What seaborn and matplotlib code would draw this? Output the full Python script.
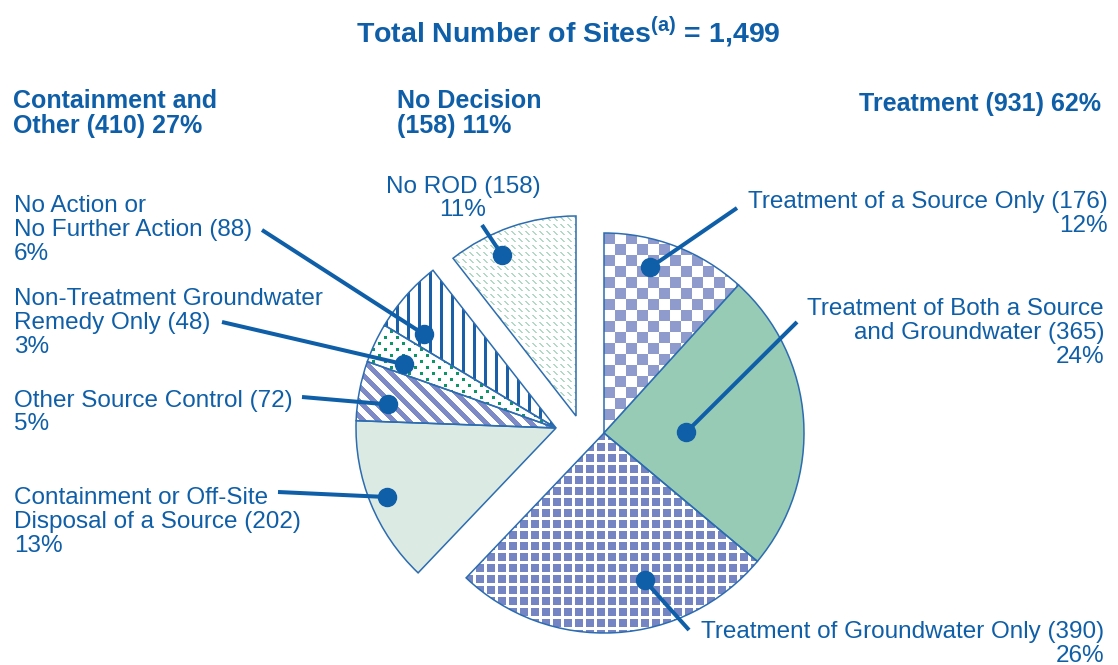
import numpy as np
import matplotlib
matplotlib.use("Agg")
import matplotlib.pyplot as plt
import seaborn as sns
from matplotlib.colors import to_rgba

sns.set_theme(style="white")
plt.rcParams["font.family"] = ["Liberation Sans", "DejaVu Sans"]
plt.rcParams["mathtext.fontset"] = "custom"
plt.rcParams["mathtext.rm"] = "Liberation Sans"
plt.rcParams["mathtext.bf"] = "Liberation Sans:bold"

# === DATA ===
total_sites = 1499
categories = [
    "Treatment of a Source Only",
    "Treatment of Both a Source\nand Groundwater",
    "Treatment of Groundwater Only",
    "Containment or Off-Site\nDisposal of a Source",
    "Other Source Control",
    "Non-Treatment Groundwater\nRemedy Only",
    "No Action or\nNo Further Action",
    "No ROD",
]
counts = [176, 365, 390, 202, 72, 48, 88, 158]
percents = [12, 24, 26, 13, 5, 3, 6, 11]
groups = ["Treatment"] * 3 + ["Containment"] * 4 + ["No Decision"]

group_keys = ["Treatment", "Containment", "No Decision"]
group_names = ["Treatment", "Containment and\nOther", "No Decision"]
group_counts = [931, 410, 158]
group_percents = [62, 27, 11]

# === STYLE / LAYOUT (pixel units, y measured from top) ===
W, H = 1118, 665
R = 200
BLUE = "#0f5fa8"
EDGE = "#2c6cb0"
LINE_PX = 23.5
group_centers = {"Treatment": (604, 433), "Containment": (556, 428), "No Decision": (576, 416)}
fills = ["checker", "#98cbb6", "grid", "#dbeae3", "stripes", "dots", "vlines", "dashes"]

# where the pointer dot sits: (fraction of the wedge angle, radius in px)
dot_pos = [(0.63, 172), (0.46, 82), (0.63, 153), (0.50, 183),
           (0.66, 170), (0.71, 165), (0.79, 162), (0.65, 177)]
# where the pointer line starts next to the label
line_start = [(737, 208), (797, 322), (689, 630), (278, 492),
              (302, 397), (222, 322), (262, 230), (482, 225)]
# label anchor (x, baseline of first line, ha)
label_pos = [(1108, 208, "right"), (1104, 316, "right"), (1104, 638, "right"),
             (14, 505, "left"), (14, 407, "left"), (14, 306, "left"),
             (14, 213, "left"), (463, 193, "center")]
header_pos = [(1101, 111, "right"), (13, 110, "left"), (397, 110, "left")]

# === textures ===
yy, xx = np.mgrid[0:H, 0:W]


def texture(mask, color):
    img = np.ones((H, W, 4))
    img[mask] = to_rgba(color)
    return img


textures = {
    "checker": texture((((xx - 604) // 11) + ((yy - 233) // 11)) % 2 == 0, "#8e9bcc"),
    "grid": texture(((xx % 11) >= 3) & ((yy % 11) >= 3), "#7585c3"),
    "stripes": texture(((xx - yy) % 15) < 7, "#7d8ac6"),
    "dots": texture((((xx % 12) < 3) & ((yy % 12) < 3))
                    | ((((xx + 6) % 12) < 3) & (((yy + 6) % 12) < 3)), "#0c9567"),
    "vlines": texture((xx % 11) < 3, "#1b5fa8"),
    "dashes": texture((((xx - yy) % 7) < 2) & ((yy % 7) < 4), "#b3d9c7"),
}

fig = plt.figure(figsize=(W / 100, H / 100), dpi=100)
ax = fig.add_axes([0, 0, 1, 1])

wedge_of = {}
for g in group_keys:
    cx, cy = group_centers[g]
    wedges, _ = ax.pie(counts, center=(cx, H - cy), radius=R, startangle=90,
                       counterclock=False, frame=True,
                       wedgeprops=dict(linewidth=1.1, edgecolor=EDGE))
    for i, w in enumerate(wedges):
        if groups[i] != g:
            w.remove()
            continue
        wedge_of[i] = w
        f = fills[i]
        w.set_zorder(2)
        if f in textures:
            w.set_facecolor("none")
            ax.imshow(textures[f], extent=(0, W, 0, H), interpolation="nearest",
                      zorder=1, clip_path=w)
        else:
            w.set_facecolor(f)


def put_text(x, y_first, s, ha, **kw):
    # matplotlib puts the baseline of the LAST line at y for multi-line text
    n = s.count("\n")
    ax.text(x, H - (y_first + n * LINE_PX), s, ha=ha, va="baseline", ma=ha,
            color=BLUE, **kw)


# pointers and labels
for i, cat in enumerate(categories):
    w = wedge_of[i]
    t, r = dot_pos[i]
    ang = np.deg2rad(w.theta1 + t * (w.theta2 - w.theta1))
    dx = w.center[0] + r * np.cos(ang)
    dy = w.center[1] + r * np.sin(ang)
    sx, sy = line_start[i]
    ax.plot([sx, dx], [H - sy, dy], color=BLUE, lw=2.9, solid_capstyle="butt", zorder=4)
    ax.plot(dx, dy, "o", color=BLUE, ms=13, zorder=5)
    lx, ly, ha = label_pos[i]
    put_text(lx, ly, f"{cat} ({counts[i]})\n{percents[i]}%", ha,
             fontsize=17.5, linespacing=1.11)

for name, n, p, (hx, hy, ha) in zip(group_names, group_counts, group_percents, header_pos):
    sep = "\n" if name == "No Decision" else " "
    put_text(hx, hy, f"{name}{sep}({n}) {p}%", ha,
             fontsize=18, fontweight="bold", linespacing=1.1)

ax.text(568, H - 42, "Total Number of Sites$^{\\mathbf{(a)}}$ = " + f"{total_sites:,}",
        ha="center", va="baseline", fontsize=20.5, fontweight="bold", color=BLUE)

ax.set_xlim(0, W)
ax.set_ylim(0, H)
ax.set_aspect("equal")
ax.axis("off")
fig.savefig("out.png", dpi=100)
